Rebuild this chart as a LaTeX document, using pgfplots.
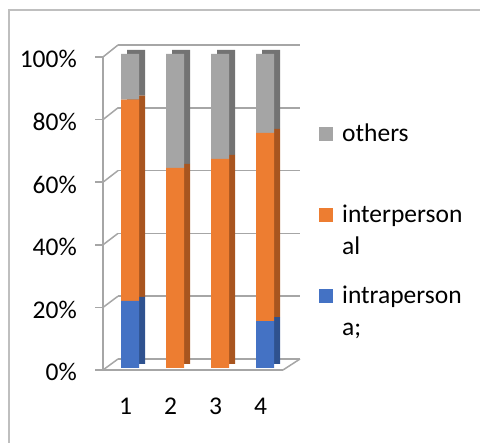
\documentclass[border=0pt]{standalone}
\usepackage{pgfplots}
\pgfplotsset{compat=1.18}
\usepackage{pgfplotstable}
\usepackage{fontspec}
\setmainfont{Carlito}
\definecolor{cblue}{HTML}{4472C4}
\definecolor{corange}{HTML}{ED7D31}
\definecolor{cgray}{HTML}{A5A5A5}
\definecolor{dblue}{HTML}{2F528F}
\definecolor{dorange}{HTML}{A8551F}
\definecolor{dgray}{HTML}{737373}
\definecolor{gline}{HTML}{A6A6A6}
\definecolor{fline}{HTML}{BFBFBF}

\pgfplotstableread{
x intra inter others
1 21.4 64.1 14.5
2 0 63.7 36.3
3 0 66.6 33.4
4 14.9 60.0 25.1
}\data

\begin{document}
\begin{tikzpicture}[x=1pt,y=1pt]
\path[use as bounding box] (0,0) rectangle (480,443);
\draw[fline, line width=1.5pt] (9,-5) -- (9,433) -- (485,433);
% back wall gridlines
\begin{axis}[at={(118pt,84pt)}, anchor=south west, scale only axis,
  width=182pt, height=314pt, xmin=0, xmax=1, ymin=0, ymax=100,
  ytick={0,20,...,100}, xtick=\empty, yticklabels={,,,,,},
  ymajorgrids, grid style={gline, line width=1.5pt},
  ytick style={draw=none},
  axis line style={draw=none}, major tick length=0pt]
\end{axis}
\foreach \i in {0,...,5} {
  \draw[gline, line width=1.5pt] (103, 73+62.6*\i) -- (118, 84+62.8*\i);
}
\draw[gline, line width=1.5pt] (283,73) -- (300,84);
% side faces of the bars
\begin{axis}[at={(113.5pt,79pt)}, anchor=south west, scale only axis,
  width=180pt, height=314pt, xmin=0.5, xmax=4.5, ymin=0, ymax=100,
  hide axis, ybar stacked, bar width=18pt]
\addplot[fill=dblue, draw=none] table[x=x,y=intra]{\data};
\addplot[fill=dorange, draw=none] table[x=x,y=inter]{\data};
\addplot[fill=dgray, draw=none] table[x=x,y=others]{\data};
\end{axis}
% front faces of the bars
\begin{axis}[at={(107.5pt,75pt)}, anchor=south west, scale only axis,
  width=180pt, height=314pt, xmin=0.5, xmax=4.5, ymin=0, ymax=100,
  hide axis, ybar stacked, bar width=18pt,
  reverse legend, legend cell align=left,
  legend image code/.code={\fill[#1] (0pt,1pt) rectangle (14pt,15pt);},
  legend style={at={(axis description cs:1.175,0.792)}, anchor=north west,
    draw=none, fill=none, inner sep=0pt, row sep=57pt, column sep=9pt,
    font=\fontsize{25.5}{32}\selectfont,
    nodes={inner sep=0pt}, cells={anchor=base west}}]
\addplot[fill=cblue, draw=none] table[x=x,y=intra]{\data};
\addlegendentry{\begin{tabular}[t]{@{}l@{}}intraperson\\a;\end{tabular}}
\addplot[fill=corange, draw=none] table[x=x,y=inter]{\data};
\addlegendentry{\begin{tabular}[t]{@{}l@{}}interperson\\al\end{tabular}}
\addplot[fill=cgray, draw=none] table[x=x,y=others]{\data};
\addlegendentry{\begin{tabular}[t]{@{}l@{}}others\\\mbox{}\end{tabular}}
\end{axis}
% front axis
\begin{axis}[at={(103pt,73pt)}, anchor=south west, scale only axis,
  width=180pt, height=313pt, xmin=0.5, xmax=4.5, ymin=0, ymax=100,
  axis x line*=bottom, axis y line*=left,
  axis line style={gline, line width=1.5pt},
  tick style={gline, line width=1.5pt},
  xtick={1,2,3,4}, xticklabels={1,2,3,4}, xtick style={draw=none},
  minor xtick={0.5,1.5,...,4.5}, minor tick length=7pt,
  ytick={0,20,...,100}, yticklabels={0\%,20\%,40\%,60\%,80\%,100\%},
  major tick length=8pt, tick align=outside,
  tick label style={font=\fontsize{25.5}{32}\selectfont, inner sep=0pt},
  xticklabel style={anchor=base, yshift=-37pt},
  yticklabel style={anchor=base east, xshift=-18pt, yshift=-11pt}]
\end{axis}
\end{tikzpicture}
\end{document}
